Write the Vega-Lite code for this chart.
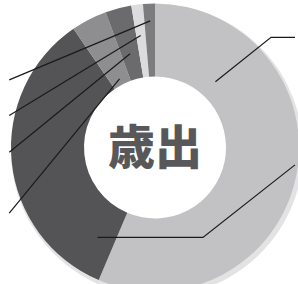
{
  "$schema": "https://vega.github.io/schema/vega-lite/v6.json",
  "autosize": {"type": "fit", "contains": "padding"},
  "width": 298,
  "height": 284,
  "padding": {"left": 6, "top": 16, "right": 0, "bottom": 0},
  "background": "white",
  "view": {"stroke": null},
  "datasets": {
    "segments": [
      {"item": "A", "order": 1, "value": 203},
      {"item": "B", "order": 2, "value": 122.5},
      {"item": "C", "order": 3, "value": 14.5},
      {"item": "D", "order": 4, "value": 10.5},
      {"item": "E", "order": 5, "value": 4.7},
      {"item": "F", "order": 6, "value": 4.8}
    ],
    "leaders": [
      {"line": "F", "seq": 1, "x": 147, "y": 19},
      {"line": "F", "seq": 2, "x": 0, "y": 80},
      {"line": "E", "seq": 1, "x": 137, "y": 34},
      {"line": "E", "seq": 2, "x": 0, "y": 117},
      {"line": "D", "seq": 1, "x": 126, "y": 53},
      {"line": "D", "seq": 2, "x": 0, "y": 155},
      {"line": "C", "seq": 1, "x": 115, "y": 79},
      {"line": "C", "seq": 2, "x": 0, "y": 218},
      {"line": "A", "seq": 1, "x": 215, "y": 82},
      {"line": "A", "seq": 2, "x": 273, "y": 36},
      {"line": "A", "seq": 3, "x": 298, "y": 36},
      {"line": "B", "seq": 1, "x": 92, "y": 243},
      {"line": "B", "seq": 2, "x": 202, "y": 243},
      {"line": "B", "seq": 3, "x": 298, "y": 168}
    ],
    "title": [{"label": "歳出", "x": 152, "y": 153}]
  },
  "layer": [
    {
      "data": {"name": "segments"},
      "mark": {"type": "arc", "outerRadius": 146, "innerRadius": 138, "xOffset": 2, "yOffset": 3, "color": "#b0b0b2", "opacity": 0.35},
      "encoding": {
        "theta": {"field": "value", "type": "quantitative", "stack": true},
        "order": {"field": "order", "type": "quantitative"}
      }
    },
    {
      "data": {"name": "segments"},
      "mark": {"type": "arc", "outerRadius": 144, "innerRadius": 71},
      "encoding": {
        "theta": {"field": "value", "type": "quantitative", "stack": true},
        "order": {"field": "order", "type": "quantitative"},
        "color": {
          "field": "item",
          "type": "nominal",
          "legend": null,
          "scale": {
            "domain": ["A", "B", "C", "D", "E", "F"],
            "range": ["#c2c2c4", "#545457", "#8e8e91", "#6b6b6e", "#dcdcde", "#7c7c7f"]
          }
        }
      }
    },
    {
      "data": {"name": "leaders"},
      "mark": {"type": "line", "color": "#1a1a1a", "strokeWidth": 1.2},
      "encoding": {
        "x": {"field": "x", "type": "quantitative", "axis": null, "scale": {"domain": [6, 298], "nice": false, "zero": false}},
        "y": {"field": "y", "type": "quantitative", "axis": null, "scale": {"domain": [16, 284], "nice": false, "zero": false, "reverse": true}},
        "detail": {"field": "line", "type": "nominal"},
        "order": {"field": "seq", "type": "quantitative"}
      }
    },
    {
      "data": {"name": "title"},
      "mark": {"type": "text", "font": "Noto Sans CJK JP", "fontWeight": 900, "fontSize": 47, "color": "#58585b", "baseline": "middle", "align": "center"},
      "encoding": {
        "x": {"field": "x", "type": "quantitative", "axis": null, "scale": {"domain": [6, 298], "nice": false, "zero": false}},
        "y": {"field": "y", "type": "quantitative", "axis": null, "scale": {"domain": [16, 284], "nice": false, "zero": false, "reverse": true}},
        "text": {"field": "label"}
      }
    }
  ]
}
